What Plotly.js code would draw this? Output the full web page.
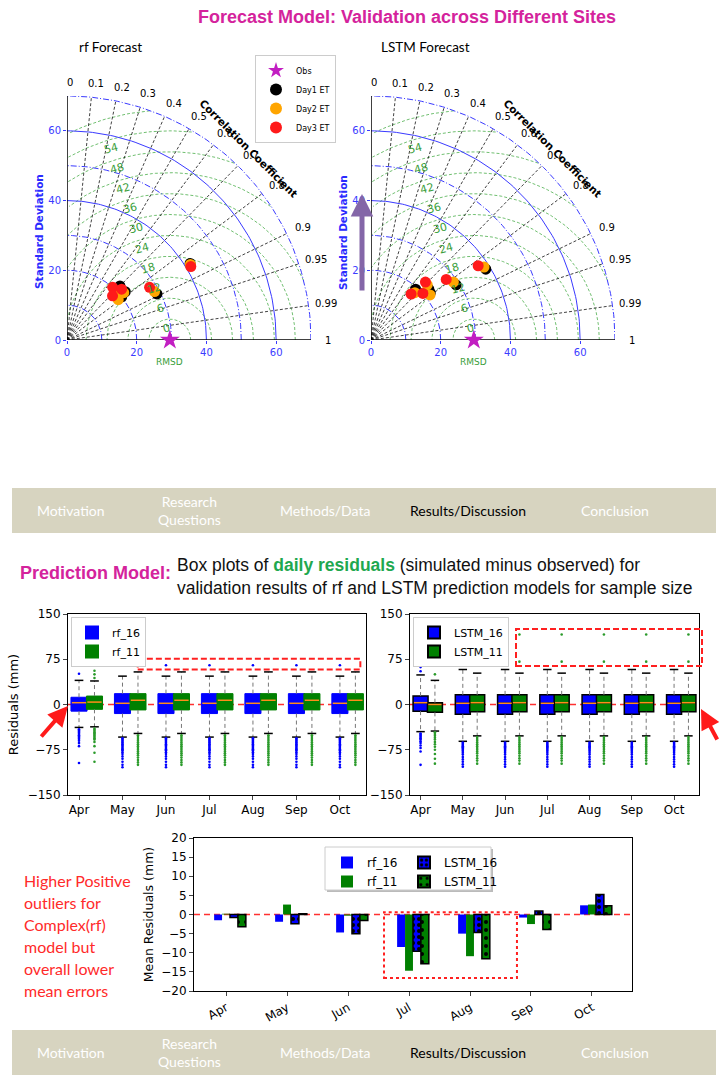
<!DOCTYPE html>
<html><head><meta charset="utf-8">
<script src="https://cdn.plot.ly/plotly-3.0.1.min.js"></script>
<style>html,body{margin:0;padding:0;background:#fff}#chart{width:720px;height:1080px}</style>
</head><body><div id="chart"></div>
<script>
// ---------------- DATA ----------------
const months = ['Apr','May','Jun','Jul','Aug','Sep','Oct'];
const monthIdx = [0,1,2,3,4,5,6];

// Taylor diagram
const corrTicks = [0.1,0.2,0.3,0.4,0.5,0.6,0.7,0.8,0.9,0.95,0.99];
const corrLabels = [0,0.1,0.2,0.3,0.4,0.5,0.6,0.7,0.8,0.9,0.95,0.99,1];
const stdArcsSolid = [40,60];
const stdArcsDashDot = [10,20,30,50,70];
const stdTicks = [0,20,40,60];
const rmsdLevels = [6,12,18,24,30,36,42,48,54,60,66];
const rmsdLabels = [0,6,12,18,24,30,36,42,48,54];
const obsStd = 29.5;

const rfDay1Std = [21.7,21.7,20.0,29.0,41.6];
const rfDay1Corr = [0.70,0.77,0.785,0.89,0.849];
const rfDay2Std = [18.7,19.3,21.2,28.7,41.5];
const rfDay2Corr = [0.786,0.741,0.768,0.875,0.853];
const rfDay3Std = [20.0,18.2,21.4,28.1,41.3];
const rfDay3Corr = [0.655,0.718,0.732,0.843,0.860];

const lstmDay1Std = [19.4,22.1,21.7,29.1,38.7];
const lstmDay1Corr = [0.66,0.751,0.783,0.839,0.851];
const lstmDay2Std = [22.6,21.3,18.5,28.9,38.6];
const lstmDay2Corr = [0.714,0.795,0.68,0.818,0.84];
const lstmDay3Std = [17.5,22.8,20.0,27.7,37.4];
const lstmDay3Corr = [0.657,0.685,0.744,0.779,0.822];

// Box plots (residuals, mm)
const rf16Q1 = [-11,-15,-15,-15,-15,-15,-15];
const rf16Med = [3,2,2,2,2,2,2];
const rf16Q3 = [12,18,18,18,18,18,18];
const rf16Low = [-38,-54,-54,-54,-54,-54,-54];
const rf16High = [40,47,47,47,47,47,47];
const rf11Q1 = [-8,-9,-9,-9,-9,-9,-9];
const rf11Med = [4,7,7,7,7,7,7];
const rf11Q3 = [14,18,18,18,18,18,18];
const rf11Low = [-37,-48,-48,-48,-48,-48,-48];
const rf11High = [39,54,54,54,54,54,54];

const lstm16Q1 = [-11,-16,-16,-16,-16,-16,-16];
const lstm16Med = [3,2,2,2,2,2,2];
const lstm16Q3 = [14,16,16,16,16,16,16];
const lstm16Low = [-45,-61,-61,-61,-61,-61,-61];
const lstm16High = [49,58,58,58,58,58,58];
const lstm11Q1 = [-13,-12,-12,-12,-12,-12,-12];
const lstm11Med = [0,3,3,3,3,3,3];
const lstm11Q3 = [3,16,16,16,16,16,16];
const lstm11Low = [-44,-52,-52,-52,-52,-52,-52];
const lstm11High = [40,52,52,52,52,52,52];

// outliers (per month)
const rf16OutApr = [51,-41,-43,-45,-47,-49,-51,-53,-55,-57,-60,-64,-69,-97];
const rf16OutMon = [65,-56,-58,-60,-62,-64,-66,-68,-70,-72,-74,-76,-79,-82,-86,-90,-95,-100,-104];
const rf16Out = [rf16OutApr, rf16OutMon, rf16OutMon, rf16OutMon, rf16OutMon, rf16OutMon, rf16OutMon];
const rf11OutApr = [44,50,56,-40,-42,-44,-46,-48,-50,-52,-54,-56,-58,-62,-69,-80,-95];
const rf11OutMon = [-51,-54,-57,-60,-63,-66,-69,-72,-75,-78,-81,-84,-88,-92,-96,-100];
const rf11Out = [rf11OutApr, rf11OutMon, rf11OutMon, rf11OutMon, rf11OutMon, rf11OutMon, rf11OutMon];

const lstm16OutApr = [55,62,-48,-50,-52,-54,-56,-58,-61,-64,-68,-72,-78,-100];
const lstm16OutMon = [-63,-65,-67,-69,-71,-73,-75,-77,-80,-83,-87,-91,-95,-99,-103];
const lstm16Out = [lstm16OutApr, lstm16OutMon, lstm16OutMon, lstm16OutMon, lstm16OutMon, lstm16OutMon, lstm16OutMon];
const lstm11OutApr = [50,-46,-49,-52,-55,-58,-62,-66,-70,-75,-82,-90,-98];
const lstm11OutMay = [71,-54,-57,-60,-63,-66,-69,-72,-75,-78,-81,-85,-89,-93,-98];
const lstm11OutMon = [71,116,-54,-57,-60,-63,-66,-69,-72,-75,-78,-81,-85,-89,-93,-98];
const lstm11Out = [lstm11OutApr, lstm11OutMay, lstm11OutMon, lstm11OutMon, lstm11OutMon, lstm11OutMon, lstm11OutMon];

// Mean residuals (mm)
const rf16Mean = [-1.5,-1.9,-4.7,-8.5,-5.0,-0.8,2.4];
const rf11Mean = [0.2,2.6,-0.3,-14.7,-10.9,-2.5,2.6];
const lstm16Mean = [-0.8,-2.4,-5.0,-9.6,-4.7,0.9,5.2];
const lstm11Mean = [-3.2,0.2,-1.6,-12.9,-11.6,-3.9,2.3];

const navItems = ['Motivation','Research<br>Questions','Methods/Data','Results/Discussion','Conclusion'];
const noteLines = ['Higher Positive','outliers for','Complex(rf)','model but','overall lower','mean errors'];

// ---------------- HELPERS ----------------
const W = 720, H = 1080;
const px = v => v / W;
const py = v => 1 - v / H;
const rad = d => d * Math.PI / 180;
const DJ = 'DejaVu Sans', LATO = 'Lato', ARIAL = 'Liberation Sans, Arial';
const BLUE_T = '#3b3bff', GREEN_T = '#3a9e3a', MAG = '#d4239c';

const traces = [];
const annotations = [];
const shapes = [];
const ann = o => annotations.push(Object.assign({showarrow: false, xanchor: 'center', yanchor: 'middle'}, o));

// Taylor diagram frames (pixel extents of the 0..70 axes)
const taylorFrames = {x: {x0: 67, y0: 340}, x2: {x0: 371, y0: 340}};
const TSPAN = 244;

// ---------------- TAYLOR ----------------
function taylor(xa, ya, sets, showLeg) {
  const f = taylorFrames[xa];
  const tp = (x, y) => ({xref: 'paper', yref: 'paper', x: px(f.x0 + x * TSPAN / 70), y: py(f.y0 - y * TSPAN / 70)});
  const base = {xaxis: xa, yaxis: ya, mode: 'lines', hoverinfo: 'skip', showlegend: false};
  // RMSD circles
  let cx = [], cy = [];
  rmsdLevels.forEach(R => {
    for (let t = 0; t <= 180; t += 1) {
      const x = obsStd + R * Math.cos(rad(t)), y = R * Math.sin(rad(t));
      if (x >= 0 && x * x + y * y <= 70 * 70) { cx.push(x); cy.push(y); } else { cx.push(null); cy.push(null); }
    }
    cx.push(null); cy.push(null);
  });
  traces.push({...base, x: cx, y: cy, line: {color: '#4cae4c', width: 0.8, dash: '3px,2px'}});
  // std arcs
  [[stdArcsDashDot, '6px,2px,1px,2px'], [stdArcsSolid, 'solid']].forEach(([arr, dash]) => {
    let ax = [], ay = [];
    arr.forEach(r => { for (let t = 0; t <= 90; t += 1) { ax.push(r * Math.cos(rad(t))); ay.push(r * Math.sin(rad(t))); } ax.push(null); ay.push(null); });
    traces.push({...base, x: ax, y: ay, line: {color: '#3a3aff', width: 1, dash: dash}});
  });
  // correlation lines
  let lx = [], ly = [];
  corrTicks.forEach(c => { lx.push(0, 70 * c, null); ly.push(0, 70 * Math.sqrt(1 - c * c), null); });
  traces.push({...base, x: lx, y: ly, line: {color: '#111', width: 0.8, dash: '3px,2px'}});
  // axis lines
  traces.push({...base, x: [0, 0, null, 0, 70], y: [70, 0, null, 0, 0], line: {color: '#000', width: 1.5}});
  // obs
  traces.push({xaxis: xa, yaxis: ya, type: 'scatter', mode: 'markers', name: 'Obs', x: [obsStd], y: [0],
    marker: {symbol: 'star', size: 15, color: '#c21ec2'}, cliponaxis: false, showlegend: showLeg, legend: 'legend'});
  const cols = ['#000000', '#ffa500', '#ff1a1a'];
  const names = ['Day1 ET', 'Day2 ET', 'Day3 ET'];
  sets.forEach((s, k) => {
    traces.push({xaxis: xa, yaxis: ya, type: 'scatter', mode: 'markers', name: names[k],
      x: s[0].map((sd, i) => sd * s[1][i]), y: s[0].map((sd, i) => sd * Math.sqrt(1 - s[1][i] * s[1][i])),
      marker: {size: 11, color: cols[k]}, showlegend: showLeg, legend: 'legend'});
  });
  // labels
  corrLabels.forEach(c => {
    const th = Math.acos(c);
    ann({...tp(74 * Math.cos(th) + 1, 74 * Math.sin(th)), text: String(c), font: {family: DJ, size: 10, color: '#000'}});
  });
  rmsdLabels.forEach(R => {
    ann({...tp(obsStd + (R + 3.5) * Math.cos(rad(107)), (R + 3.5) * Math.sin(rad(107))),
      text: String(R), textangle: -15, font: {family: DJ, size: 11, color: GREEN_T}});
  });
  ann({...tp(52, 55), text: '<b>Correlation Coefficient</b>', textangle: 45, font: {family: DJ, size: 10.5, color: '#000'}});
  ann({...tp(obsStd, -6.3), text: 'RMSD', font: {family: DJ, size: 9, color: GREEN_T}});
  ann({...tp(0, 31), xshift: -28, text: '<b>Standard Deviation</b>', textangle: -90, font: {family: DJ, size: 10.5, color: '#2a2aff'}});
}
taylor('x', 'y', [[rfDay1Std, rfDay1Corr], [rfDay2Std, rfDay2Corr], [rfDay3Std, rfDay3Corr]], true);
taylor('x2', 'y2', [[lstmDay1Std, lstmDay1Corr], [lstmDay2Std, lstmDay2Corr], [lstmDay3Std, lstmDay3Corr]], false);

// ---------------- BOX PLOTS ----------------
function boxSeries(xa, ya, name, off, width, q1, med, q3, fill, edge, leg) {
  const pos = monthIdx.map(i => i + off);
  traces.push({type: 'box', name: name, xaxis: xa, yaxis: ya, orientation: 'v', x: pos, q1: q1, median: med, q3: q3,
    lowerfence: q1, upperfence: q3, width: width, whiskerwidth: 0, boxpoints: false, fillcolor: fill,
    line: {color: edge, width: edge === '#000000' ? 1.5 : 1}, hoverinfo: 'skip', legend: leg, showlegend: true});
}
function boxExtras(xa, ya, off, width, q1, med, q3, low, high, outs, dotColor) {
  const pos = monthIdx.map(i => i + off);
  let wx = [], wy = [], cxs = [], cys = [], mx = [], my = [], ox = [], oy = [];
  pos.forEach((p, i) => {
    wx.push(p, p, null, p, p, null); wy.push(q3[i], high[i], null, q1[i], low[i], null);
    cxs.push(p - 0.1, p + 0.1, null, p - 0.1, p + 0.1, null); cys.push(high[i], high[i], null, low[i], low[i], null);
    mx.push(p - width / 2 + 0.02, p + width / 2 - 0.02, null); my.push(med[i], med[i], null);
    outs[i].forEach(v => { ox.push(p); oy.push(v); });
  });
  const b = {xaxis: xa, yaxis: ya, type: 'scatter', hoverinfo: 'skip', showlegend: false};
  traces.push({...b, mode: 'lines', x: wx, y: wy, line: {color: '#777', width: 1, dash: '4px,3px'}});
  traces.push({...b, mode: 'lines', x: cxs, y: cys, line: {color: '#000', width: 1.5}});
  traces.push({...b, mode: 'lines', x: mx, y: my, line: {color: '#ff8c1a', width: 1.5}});
  traces.push({...b, mode: 'markers', x: ox, y: oy, marker: {size: 2.6, color: dotColor}});
}
boxSeries('x3', 'y3', 'rf_16', 0, 0.37, rf16Q1, rf16Med, rf16Q3, '#0000ff', '#0000ff', 'legend2');
boxSeries('x3', 'y3', 'rf_11', 0.356, 0.37, rf11Q1, rf11Med, rf11Q3, '#008000', '#008000', 'legend2');
boxSeries('x4', 'y4', 'LSTM_16', 0, 0.355, lstm16Q1, lstm16Med, lstm16Q3, '#0000ff', '#000000', 'legend3');
boxSeries('x4', 'y4', 'LSTM_11', 0.34, 0.355, lstm11Q1, lstm11Med, lstm11Q3, '#008000', '#000000', 'legend3');
boxExtras('x3', 'y3', 0, 0.37, rf16Q1, rf16Med, rf16Q3, rf16Low, rf16High, rf16Out, '#0000ff');
boxExtras('x3', 'y3', 0.356, 0.37, rf11Q1, rf11Med, rf11Q3, rf11Low, rf11High, rf11Out, '#2a9a2a');
boxExtras('x4', 'y4', 0, 0.355, lstm16Q1, lstm16Med, lstm16Q3, lstm16Low, lstm16High, lstm16Out, '#0000ff');
boxExtras('x4', 'y4', 0.34, 0.355, lstm11Q1, lstm11Med, lstm11Q3, lstm11Low, lstm11High, lstm11Out, '#2a9a2a');

// ---------------- BAR CHART ----------------
const barDefs = [
  ['rf_16', rf16Mean, -0.195, {color: '#0000ff'}, 'legend4', 1],
  ['rf_11', rf11Mean, -0.065, {color: '#008000'}, 'legend4', 2],
  ['LSTM_16', lstm16Mean, 0.065, {color: '#0000ff', line: {color: '#000', width: 1.5}, pattern: {shape: '.', fgcolor: '#000', bgcolor: '#0000ff', size: 6, solidity: 0.35}}, 'legend5', 3],
  ['LSTM_11', lstm11Mean, 0.195, {color: '#008000', line: {color: '#000', width: 1.5}, pattern: {shape: '.', fgcolor: '#000', bgcolor: '#008000', size: 8, solidity: 0.2}}, 'legend5', 4],
];
barDefs.forEach(([name, vals, off, marker, leg, rank]) => {
  traces.push({type: 'bar', name: name, xaxis: 'x5', yaxis: 'y5', x: monthIdx, y: vals, width: 0.13, offset: off,
    marker: marker, legend: leg, legendrank: rank, hoverinfo: 'skip'});
});

// ---------------- ANNOTATIONS / SHAPES ----------------
const P = (x, y) => ({xref: 'paper', yref: 'paper', x: px(x), y: py(y)});
ann({...P(407, 17), text: '<b>Forecast Model: Validation across Different Sites</b>', font: {family: ARIAL, size: 18, color: MAG}});
ann({...P(110, 47), text: 'rf Forecast', font: {family: LATO, size: 13.5, color: '#000'}});
ann({...P(425, 47), text: 'LSTM Forecast', font: {family: LATO, size: 13.5, color: '#000'}});
// purple arrow
annotations.push({...P(362, 194), ax: 0, ay: 98, text: '', showarrow: true, arrowhead: 2, arrowsize: 0.9, arrowwidth: 5, arrowcolor: '#8466a8'});

// nav bars
const navX = [71, 189, 325, 468, 615];
[[488, 533, 511], [1030, 1075, 1052]].forEach(([y0, y1, yc]) => {
  shapes.push({type: 'rect', xref: 'paper', yref: 'paper', x0: px(12), x1: px(716), y0: py(y1), y1: py(y0), fillcolor: '#d7d4c0', line: {width: 0}, layer: 'below'});
  navItems.forEach((t, i) => {
    ann({...P(navX[i], yc), text: t, font: {family: LATO, size: 14, color: i === 3 ? '#000' : '#ffffff'}});
  });
});

ann({...P(18, 573), xanchor: 'left', text: '<b>Prediction Model:</b>', font: {family: ARIAL, size: 18, color: MAG}});
ann({...P(175, 565), xanchor: 'left', text: 'Box plots of <b><span style="color:#1fa84f">daily residuals</span></b> (simulated minus observed) for',
  font: {family: ARIAL, size: 17.5, color: '#111'}});
ann({...P(175, 588), xanchor: 'left', text: 'validation results of rf and LSTM prediction models for sample size',
  font: {family: ARIAL, size: 17.5, color: '#111'}});

noteLines.forEach((t, i) => {
  ann({...P(22, 880 + i * 22), xanchor: 'left', text: t, font: {family: LATO, size: 16, color: '#ff2a2a'}});
});

// red arrows
annotations.push({...P(68, 706), ax: -28, ay: 32, text: '', showarrow: true, arrowhead: 2, arrowsize: 1, arrowwidth: 4, arrowcolor: '#ff1a1a'});
annotations.push({...P(701, 709), ax: 17, ay: 32, text: '', showarrow: true, arrowhead: 2, arrowsize: 1, arrowwidth: 4, arrowcolor: '#ff1a1a'});

// zero lines
[['x3', 'y3'], ['x4', 'y4'], ['x5', 'y5']].forEach(([xa, ya]) => {
  shapes.push({type: 'line', xref: xa + ' domain', yref: ya, x0: 0, x1: 1, y0: 0, y1: 0, line: {color: '#ff3030', width: 1.5, dash: '6px,4px'}, layer: 'below'});
});
// highlight rectangles
shapes.push({type: 'rect', xref: 'x3', yref: 'y3', x0: 1.35, x1: 6.47, y0: 58, y1: 76, line: {color: '#ff2020', width: 2, dash: '6px,3px'}});
shapes.push({type: 'rect', xref: 'paper', yref: 'paper', x0: px(516), x1: px(702), y0: py(666), y1: py(629), line: {color: '#ff2020', width: 2, dash: '6px,3px'}});
shapes.push({type: 'rect', xref: 'x5', yref: 'y5', x0: 2.59, x1: 4.77, y0: -16.6, y1: 0.6, line: {color: '#ff2020', width: 2, dash: 'dot'}});
// bar legend frame
shapes.push({type: 'rect', xref: 'paper', yref: 'paper', x0: px(327), x1: px(493), y0: py(892), y1: py(849), fillcolor: '#bbbbbb', line: {width: 0}});
shapes.push({type: 'rect', xref: 'paper', yref: 'paper', x0: px(325), x1: px(491), y0: py(890), y1: py(847), fillcolor: '#ffffff', line: {color: '#cccccc', width: 1}});

// ---------------- LAYOUT ----------------
const taylorAx = (dom, anchor) => ({domain: dom, range: [0, 70], anchor: anchor, tickvals: stdTicks, showgrid: false, zeroline: false,
  showline: false, ticks: 'outside', ticklen: 3, tickcolor: '#3a3aff', tickfont: {family: DJ, size: 10, color: BLUE_T}, fixedrange: true});
const boxX = (dom, anchor, range) => ({domain: dom, anchor: anchor, range: range, tickvals: monthIdx, ticktext: months, showgrid: false, zeroline: false,
  showline: true, mirror: true, linecolor: '#000', linewidth: 1, ticks: 'outside', ticklen: 4, tickfont: {family: DJ, size: 12, color: '#000'}});
const boxY = (dom, anchor, title) => ({domain: dom, anchor: anchor, range: [-150, 150], tickvals: [-150, -75, 0, 75, 150], showgrid: false, zeroline: false,
  showline: true, mirror: true, linecolor: '#000', linewidth: 1, ticks: 'outside', ticklen: 4, tickfont: {family: DJ, size: 12, color: '#000'},
  title: {text: title, font: {family: DJ, size: 13, color: '#000'}, standoff: 6}});

const legBase = {bgcolor: 'rgba(255,255,255,0)', borderwidth: 0, xanchor: 'left', yanchor: 'top', itemsizing: 'constant', tracegroupgap: 0};
const layout = {
  width: W, height: H, margin: {l: 0, r: 0, t: 0, b: 0}, paper_bgcolor: '#fff', plot_bgcolor: 'rgba(0,0,0,0)',
  showlegend: true, barmode: 'overlay', boxmode: 'overlay',
  xaxis: taylorAx([px(67), px(67 + TSPAN)], 'y'),
  yaxis: taylorAx([py(340), py(340 - TSPAN)], 'x'),
  xaxis2: taylorAx([px(371), px(371 + TSPAN)], 'y2'),
  yaxis2: taylorAx([py(340), py(340 - TSPAN)], 'x2'),
  xaxis3: boxX([px(68), px(366)], 'y3', [-0.253, 6.6]),
  yaxis3: boxY([py(795), py(614)], 'x3', 'Residuals (mm)'),
  xaxis4: boxX([px(410), px(699)], 'y4', [-0.25, 6.59]),
  yaxis4: boxY([py(795), py(614)], 'x4', ''),
  xaxis5: {domain: [px(194), px(632)], anchor: 'y5', range: [-0.525, 6.656], tickvals: monthIdx, ticktext: months, tickangle: -30,
    showgrid: false, zeroline: false, showline: true, mirror: true, linecolor: '#000', linewidth: 1, ticks: 'outside', ticklen: 4,
    tickfont: {family: DJ, size: 12, color: '#000'}},
  yaxis5: {domain: [py(991), py(838)], anchor: 'x5', range: [-20, 20], tickvals: [-20, -15, -10, -5, 0, 5, 10, 15, 20], showgrid: false, zeroline: false,
    showline: true, mirror: true, linecolor: '#000', linewidth: 1, ticks: 'outside', ticklen: 4, tickfont: {family: DJ, size: 12, color: '#000'},
    title: {text: 'Mean Residuals (mm)', font: {family: DJ, size: 12.5, color: '#000'}, standoff: 4}},
  legend: {...legBase, x: px(255), y: py(55), bgcolor: '#fff', bordercolor: '#cccccc', borderwidth: 1, font: {family: DJ, size: 8, color: '#000'}},
  legend2: {...legBase, x: px(71), y: py(617), bgcolor: '#fff', bordercolor: '#cccccc', borderwidth: 1, font: {family: DJ, size: 11, color: '#000'}},
  legend3: {...legBase, x: px(413), y: py(617), bgcolor: '#fff', bordercolor: '#cccccc', borderwidth: 1, font: {family: DJ, size: 11, color: '#000'}},
  legend4: {...legBase, x: px(327), y: py(848), font: {family: DJ, size: 12, color: '#000'}},
  legend5: {...legBase, x: px(404), y: py(848), font: {family: DJ, size: 12, color: '#000'}},
  annotations: annotations, shapes: shapes
};
Plotly.newPlot('chart', traces, layout, {displayModeBar: false, staticPlot: true});
</script></body></html>
